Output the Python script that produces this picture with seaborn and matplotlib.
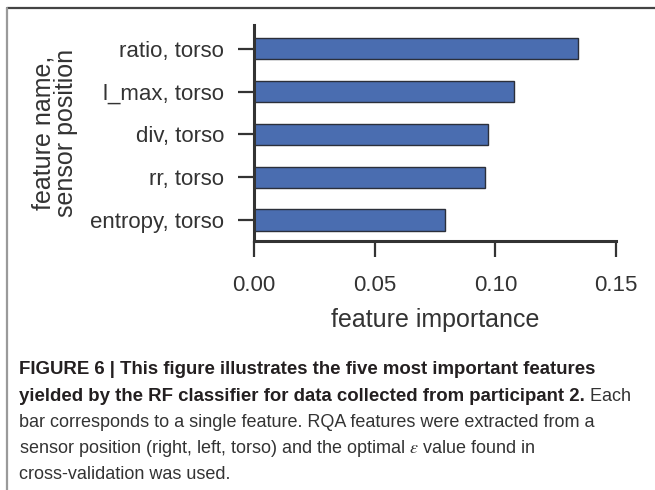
import matplotlib
matplotlib.use("Agg")
import matplotlib.pyplot as plt
from matplotlib.lines import Line2D
import seaborn as sns
import pandas as pd

# Top five RF feature importances (participant 2)
features = ["ratio, torso", "l_max, torso", "div, torso", "rr, torso", "entropy, torso"]
importance = [0.1344, 0.1078, 0.0968, 0.0957, 0.0792]
x_ticks = [0.00, 0.05, 0.10, 0.15]
x_tick_labels = ["0.00", "0.05", "0.10", "0.15"]

caption_bold_1 = "FIGURE 6 | This figure illustrates the five most important features"
caption_bold_2 = "yielded by the RF classifier for data collected from participant 2."
caption_rest_2 = " Each"
caption_lines = [
    "bar corresponds to a single feature. RQA features were extracted from a",
    r"sensor position (right, left, torso) and the optimal $\varepsilon$ value found in",
    "cross-validation was used.",
]

sns.set_style("ticks")
plt.rcParams["font.family"] = ["Liberation Sans", "DejaVu Sans"]
plt.rcParams["mathtext.fontset"] = "stix"

dark = "#333333"
bar_color = "#4a6db0"

df = pd.DataFrame({"feature": features, "importance": importance})

fig = plt.figure(figsize=(6.55, 4.90), dpi=100)
ax = fig.add_axes([254 / 655, 1 - 240.7 / 490, (616 - 254) / 655, (240.7 - 25) / 490])

sns.barplot(data=df, x="importance", y="feature", orient="h", order=features,
            color=bar_color, saturation=1, width=0.5,
            edgecolor="#2b2f3a", linewidth=1.0, ax=ax)

ax.set_xlim(0, 0.15)
ax.set_ylim(4.478, -0.553)
ax.set_xticks(x_ticks)
ax.set_xticklabels(x_tick_labels)

for side in ("top", "right"):
    ax.spines[side].set_visible(False)
for side in ("left", "bottom"):
    ax.spines[side].set_color(dark)
    ax.spines[side].set_linewidth(2.2)

ax.tick_params(axis="both", colors=dark, labelcolor=dark, labelsize=16,
               width=1.6, length=11.5, pad=10)
ax.tick_params(axis="x", pad=13)

ax.set_xlabel("feature importance", fontsize=18, color=dark, labelpad=9)
ax.set_ylabel("feature name,\nsensor position", fontsize=18, color=dark,
              labelpad=9, linespacing=0.92)

# Page frame lines
fig.add_artist(Line2D([7 / 655, 1.0], [1 - 8 / 490, 1 - 8 / 490],
                      transform=fig.transFigure, color="#444444", lw=1.6))
fig.add_artist(Line2D([7 / 655, 7 / 655], [1 - 8 / 490, 0.0],
                      transform=fig.transFigure, color="#9a9a9a", lw=1.6))

# Caption
bold_size = 13.4
reg_size = 13.0
x0 = 19 / 655
line_y = [370, 396, 422, 448, 474]
fig.text(x0, 1 - line_y[0] / 490, caption_bold_1, fontsize=bold_size,
         fontweight="bold", color="#231f20", va="center")
t2 = fig.text(x0, 1 - line_y[1] / 490, caption_bold_2, fontsize=bold_size,
              fontweight="bold", color="#231f20", va="center")
fig.canvas.draw()
bb = t2.get_window_extent(renderer=fig.canvas.get_renderer())
fig.text(bb.x1 / fig.bbox.width, 1 - line_y[1] / 490, caption_rest_2,
         fontsize=reg_size, color="#333333", va="center")
for yy, line in zip(line_y[2:], caption_lines):
    fig.text(x0, 1 - yy / 490, line, fontsize=reg_size, color="#333333", va="center")

fig.savefig("out.png", dpi=100)
